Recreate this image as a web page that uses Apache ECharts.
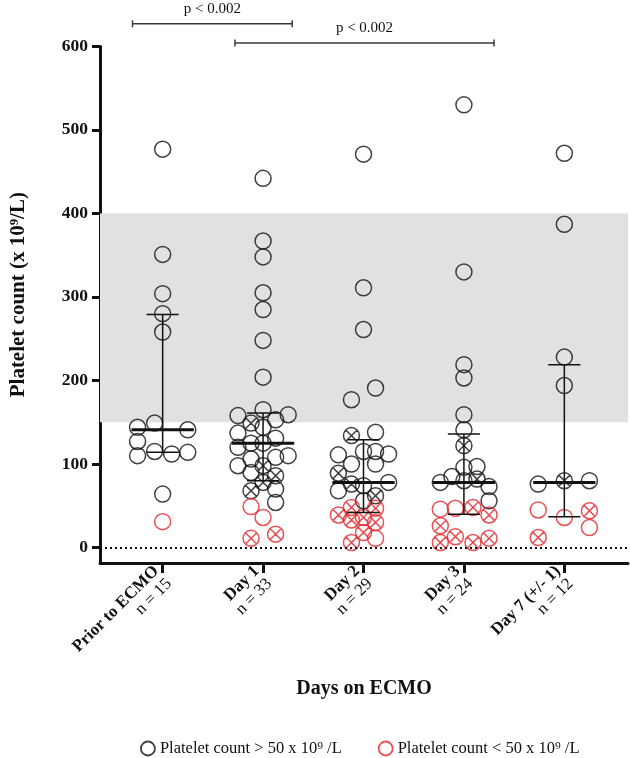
<!DOCTYPE html>
<html><head><meta charset="utf-8">
<script src="https://cdn.jsdelivr.net/npm/echarts@6/dist/echarts.min.js"></script>
<style>html,body{margin:0;padding:0;background:#fff}#c{width:630px;height:758px}</style>
</head><body><div id="c"></div>
<script>
// ---- data ----
const categories = ['Prior to ECMO', 'Day 1', 'Day 2', 'Day 3', 'Day 7 (+/- 1)'];
const groupSizes = [15, 33, 29, 24, 12];
const yTicks = [0, 100, 200, 300, 400, 500, 600];
const normalRange = [150, 400];
const redThreshold = 50;

// per-group platelet counts, swarm offsets (category units), crossed marker flag
const prior_values  = [477, 351, 304, 280, 258, 149, 144, 141, 127, 110, 115, 112, 114, 64, 31];
const prior_offsets = [0, 0, 0, 0, 0, -0.08, -0.25, 0.25, -0.25, -0.25, -0.08, 0.09, 0.25, 0, 0];
const prior_crossed = [0, 0, 0, 0, 0, 0, 0, 0, 0, 0, 0, 0, 0, 0, 0];

const day1_values  = [442, 367, 348, 305, 285, 248, 204, 165, 158, 159, 153, 149, 144, 137, 131, 125, 125, 120, 110, 108, 106, 98, 98, 90, 86, 78, 70, 68, 54, 49, 36, 16, 11];
const day1_offsets = [0, 0, 0, 0, 0, 0, 0, 0, -0.25, 0.25, 0.125, -0.12, 0, -0.25, 0.125, -0.12, 0, -0.25, 0.25, 0.125, -0.12, -0.25, 0, -0.12, 0.125, 0, 0.125, -0.12, 0.125, -0.12, 0, 0.125, -0.12];
const day1_crossed = [0, 0, 0, 0, 0, 0, 0, 0, 0, 0, 0, 1, 0, 0, 0, 0, 0, 0, 0, 0, 0, 0, 1, 0, 1, 1, 0, 1, 0, 0, 0, 1, 1];

const day2_values  = [471, 311, 261, 191, 177, 138, 134, 115, 115, 112, 111, 100, 100, 89, 78, 76, 74, 68, 62, 56, 48, 47, 39, 36, 33, 30, 18, 11, 6];
const day2_offsets = [0, 0, 0, 0.12, -0.12, 0.12, -0.12, 0, 0.12, 0.25, -0.25, 0.12, -0.12, -0.25, 0.25, -0.12, 0, -0.25, 0.12, 0, -0.12, 0.12, -0.25, 0, -0.12, 0.12, 0, 0.12, -0.12];
const day2_crossed = [0, 0, 0, 0, 0, 0, 1, 0, 0, 0, 0, 0, 0, 1, 0, 1, 0, 0, 1, 0, 1, 1, 1, 1, 1, 1, 1, 0, 1];

const day3_values  = [530, 330, 219, 203, 159, 141, 122, 97, 96, 85, 82, 80, 78, 73, 56, 48, 47, 46, 39, 26, 13, 11, 6, 6];
const day3_offsets = [0, 0, 0, 0, 0, 0, 0, 0.13, 0, -0.12, 0.13, 0, -0.235, 0.25, 0.25, 0.09, -0.085, -0.235, 0.25, -0.235, -0.085, 0.25, -0.235, 0.09];
const day3_crossed = [0, 0, 0, 0, 0, 0, 1, 0, 0, 0, 1, 0, 0, 0, 0, 1, 0, 0, 1, 1, 1, 1, 1, 1];

const day7_values  = [472, 387, 228, 194, 80, 80, 76, 45, 44, 36, 24, 12];
const day7_offsets = [0, 0, 0, 0, 0, 0.25, -0.26, -0.26, 0.25, 0, 0.25, -0.26];
const day7_crossed = [0, 0, 0, 0, 1, 0, 0, 0, 1, 0, 0, 1];

// median with interquartile range
const medians = [141, 125, 78, 78, 78];
const q1s = [114, 80, 42, 40, 37];
const q3s = [279, 161, 129, 136, 219];

// significance brackets (from / to in category units, level in y units)
const bracketFrom = [-0.30, 0.72];
const bracketTo = [1.29, 3.30];
const bracketLevel = [627, 604];
const bracketLabels = ['p < 0.002', 'p < 0.002'];

// ---- build series ----
const groupValues = [prior_values, day1_values, day2_values, day3_values, day7_values];
const groupOffsets = [prior_offsets, day1_offsets, day2_offsets, day3_offsets, day7_offsets];
const groupCrossed = [prior_crossed, day1_crossed, day2_crossed, day3_crossed, day7_crossed];

const blackOpen = [], blackCross = [], redOpen = [], redCross = [];
groupValues.forEach((vals, g) => {
  vals.forEach((v, j) => {
    const p = [g + groupOffsets[g][j], v];
    const red = v < redThreshold;
    const cr = groupCrossed[g][j] === 1;
    if (red) (cr ? redCross : redOpen).push(p);
    else (cr ? blackCross : blackOpen).push(p);
  });
});

const BLACK = '#111111';
const RED = '#e2252b';
const FONT = 'Liberation Serif';
const crossPath = 'path://M10,0A10,10,0,1,1,-10,0A10,10,0,1,1,10,0ZM-7.07,-7.07L7.07,7.07M7.07,-7.07L-7.07,7.07';
const nameBlack = 'Platelet count > 50 x 10\u2079 /L';
const nameRed = 'Platelet count < 50 x 10\u2079 /L';

function scatter(name, data, color, symbol) {
  return {
    name: name, type: 'scatter', data: data, symbol: symbol, symbolSize: 16, z: 3,
    itemStyle: { color: 'rgba(0,0,0,0)', borderColor: color, borderWidth: 1.5 },
    emphasis: { disabled: true }, silent: true
  };
}

const errData = medians.map((m, i) => [i, m, q1s[i], q3s[i]]);
const bracketData = bracketFrom.map((f, i) => [f, bracketTo[i], bracketLevel[i], i]);

const chart = echarts.init(document.getElementById('c'), null, { renderer: 'canvas' });
chart.setOption({
  backgroundColor: '#ffffff',
  animation: false,
  textStyle: { fontFamily: FONT },
  grid: { left: 97, right: 2, top: 46.4, bottom: 195, containLabel: false },
  legend: {
    left: 135, top: 735, itemWidth: 14, itemHeight: 14, itemGap: 36,
    textStyle: { fontFamily: FONT, fontSize: 16.5, color: '#111' },
    data: [
      { name: nameBlack, icon: 'circle', itemStyle: { color: 'rgba(0,0,0,0)', borderColor: BLACK, borderWidth: 1.8 } },
      { name: nameRed, icon: 'circle', itemStyle: { color: 'rgba(0,0,0,0)', borderColor: RED, borderWidth: 1.8 } }
    ],
    selectedMode: false
  },
  xAxis: {
    type: 'value', min: -0.624, max: 4.634,
    name: 'Days on ECMO', nameLocation: 'middle', nameGap: 116,
    nameTextStyle: { fontFamily: FONT, fontSize: 20, fontWeight: 'bold', color: '#111' },
    splitLine: { show: false },
    axisLine: { onZero: false, lineStyle: { color: BLACK, width: 3 } },
    axisTick: { customValues: [0, 1, 2, 3, 4], length: 10, lineStyle: { color: BLACK, width: 3 } },
    axisLabel: {
      customValues: [0, 1, 2, 3, 4], rotate: 45, margin: 12,
      formatter: v => '{b|' + categories[Math.round(v)] + '}\n{n|n = ' + groupSizes[Math.round(v)] + '}',
      rich: {
        b: { fontFamily: FONT, fontSize: 17, fontWeight: 'bold', color: '#111', lineHeight: 18, align: 'right' },
        n: { fontFamily: FONT, fontSize: 17, color: '#111', lineHeight: 18, align: 'right' }
      }
    }
  },
  yAxis: {
    type: 'value', min: -18.5, max: 600,
    name: 'Platelet count (x 10\u2079/L)', nameLocation: 'middle', nameGap: 71,
    nameTextStyle: { fontFamily: FONT, fontSize: 21, fontWeight: 'bold', color: '#111', padding: [0, 0, 0, 20] },
    splitLine: { show: false },
    axisLine: { onZero: false, lineStyle: { color: BLACK, width: 3 } },
    axisTick: { customValues: yTicks, length: 8, lineStyle: { color: BLACK, width: 3 } },
    axisLabel: { customValues: yTicks, margin: 12, fontFamily: FONT, fontSize: 17.5, fontWeight: 'bold', color: '#111' }
  },
  series: [
    {
      type: 'scatter', data: [], silent: true, z: 1,
      markArea: {
        silent: true, itemStyle: { color: '#e1e1e1' },
        data: [[{ yAxis: normalRange[0] }, { yAxis: normalRange[1] }]]
      },
      markLine: {
        silent: true, symbol: 'none', label: { show: false },
        lineStyle: { color: BLACK, width: 2, type: [2, 3] },
        data: [{ yAxis: 0 }]
      }
    },
    scatter(nameBlack, blackOpen, BLACK, 'circle'),
    scatter('crossed >50', blackCross, BLACK, crossPath),
    scatter(nameRed, redOpen, RED, 'circle'),
    scatter('crossed <50', redCross, RED, crossPath),
    {
      type: 'custom', data: errData, z: 4, silent: true,
      renderItem: function (params, api) {
        const x = api.value(0), m = api.value(1), lo = api.value(2), hi = api.value(3);
        const pm1 = api.coord([x - 0.31, m]), pm2 = api.coord([x + 0.31, m]);
        const pl1 = api.coord([x - 0.16, lo]), pl2 = api.coord([x + 0.16, lo]);
        const ph1 = api.coord([x - 0.16, hi]), ph2 = api.coord([x + 0.16, hi]);
        const pv1 = api.coord([x, lo]), pv2 = api.coord([x, hi]);
        const thin = { stroke: BLACK, lineWidth: 1.5 };
        return {
          type: 'group', children: [
            { type: 'line', shape: { x1: pv1[0], y1: pv1[1], x2: pv2[0], y2: pv2[1] }, style: thin },
            { type: 'line', shape: { x1: pl1[0], y1: pl1[1], x2: pl2[0], y2: pl2[1] }, style: thin },
            { type: 'line', shape: { x1: ph1[0], y1: ph1[1], x2: ph2[0], y2: ph2[1] }, style: thin },
            { type: 'line', shape: { x1: pm1[0], y1: pm1[1], x2: pm2[0], y2: pm2[1] }, style: { stroke: BLACK, lineWidth: 3 } }
          ]
        };
      }
    },
    {
      type: 'custom', data: bracketData, clip: false, z: 5, silent: true,
      renderItem: function (params, api) {
        const a = api.coord([api.value(0), api.value(2)]);
        const b = api.coord([api.value(1), api.value(2)]);
        const st = { stroke: '#3a3a3a', lineWidth: 1.5 };
        return {
          type: 'group', children: [
            { type: 'line', shape: { x1: a[0], y1: a[1], x2: b[0], y2: b[1] }, style: st },
            { type: 'line', shape: { x1: a[0], y1: a[1] - 3.5, x2: a[0], y2: a[1] + 3.5 }, style: st },
            { type: 'line', shape: { x1: b[0], y1: b[1] - 3.5, x2: b[0], y2: b[1] + 3.5 }, style: st },
            { type: 'text', style: {
              text: bracketLabels[api.value(3)], x: (a[0] + b[0]) / 2, y: a[1] - 7,
              align: 'center', verticalAlign: 'bottom',
              font: '15px "Liberation Serif"', fill: '#111'
            } }
          ]
        };
      }
    }
  ]
});
</script>
</body></html>
